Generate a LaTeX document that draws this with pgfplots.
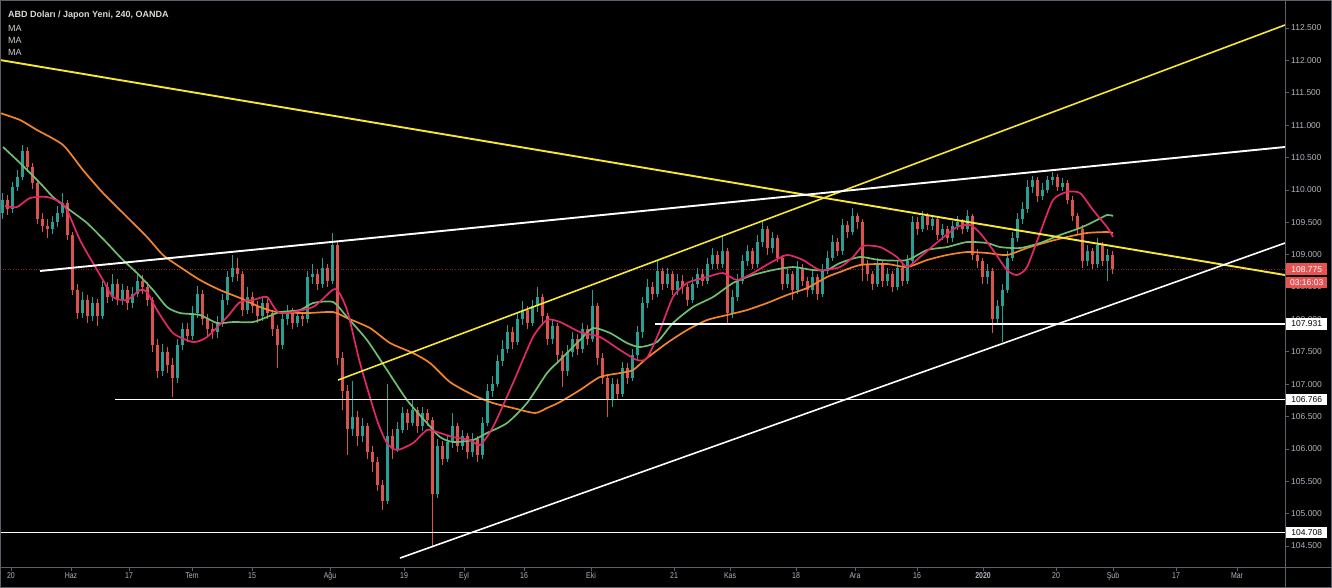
\documentclass[border=0pt]{standalone}
\usepackage{pgfplots}
\pgfplotsset{compat=1.18}
\usepackage{pgfplotstable}
\usepackage{fontspec}
\setmainfont{Liberation Sans}
\newfontfamily\narrowfont[FakeStretch=0.82]{Liberation Sans}
\definecolor{axisgray}{HTML}{5D606B}
\definecolor{labelgray}{HTML}{B2B5BE}
\definecolor{upcol}{HTML}{2B9E94}
\definecolor{downcol}{HTML}{D9534F}
\definecolor{pinkcol}{HTML}{E3276B}
\definecolor{greencol}{HTML}{6FBF6E}
\definecolor{orangecol}{HTML}{F2842A}
\definecolor{yellowcol}{HTML}{F7E733}
\definecolor{pricered}{HTML}{E65353}
\definecolor{dotred}{HTML}{8B2323}

\pgfplotstableread{
x o h l c
2 109.65 109.95 109.55 109.85
7 109.85 109.92 109.62 109.70
12 109.70 110.12 109.65 110.05
17 110.05 110.30 109.98 110.20
22 110.20 110.70 110.15 110.60
27 110.60 110.66 110.28 110.35
32 110.35 110.42 110.02 110.10
37 110.10 110.15 109.48 109.55
42 109.55 109.65 109.35 109.45
47 109.45 109.55 109.25 109.40
52 109.40 109.60 109.32 109.50
57 109.50 109.75 109.42 109.65
62 109.65 109.95 109.58 109.80
67 109.80 109.85 109.22 109.30
72 109.30 109.35 108.38 108.45
77 108.45 108.55 108.00 108.10
82 108.10 108.42 108.02 108.30
87 108.30 108.38 107.95 108.05
92 108.05 108.35 107.98 108.25
97 108.25 108.32 107.90 108.05
102 108.05 108.60 108.00 108.50
107 108.50 108.58 108.25 108.35
112 108.35 108.70 108.28 108.55
117 108.55 108.62 108.22 108.30
122 108.30 108.55 108.22 108.45
127 108.45 108.52 108.15 108.25
132 108.25 108.50 108.18 108.40
137 108.40 108.72 108.35 108.60
142 108.60 108.68 108.40 108.50
147 108.50 108.58 108.20 108.30
152 108.30 108.35 107.50 107.60
157 107.60 107.70 107.10 107.20
162 107.20 107.62 107.12 107.50
167 107.50 107.58 107.18 107.30
172 107.30 107.40 106.80 107.10
177 107.10 107.70 107.02 107.60
182 107.60 107.95 107.52 107.85
187 107.85 107.95 107.65 107.75
192 107.75 108.20 107.68 108.10
197 108.10 108.52 108.02 108.40
202 108.40 108.45 107.92 108.00
207 108.00 108.08 107.75 107.85
212 107.85 107.95 107.70 107.80
217 107.80 108.05 107.72 107.95
222 107.95 108.40 107.88 108.30
227 108.30 108.75 108.22 108.65
232 108.65 109.00 108.58 108.80
237 108.80 108.95 108.60 108.70
242 108.70 108.75 108.05 108.15
247 108.15 108.50 108.08 108.35
252 108.35 108.42 108.10 108.20
257 108.20 108.28 107.95 108.05
262 108.05 108.35 107.98 108.25
267 108.25 108.32 108.00 108.10
272 108.10 108.15 107.75 107.85
277 107.85 107.92 107.25 107.60
282 107.60 108.10 107.55 108.00
287 108.00 108.22 107.92 108.10
292 108.10 108.18 107.85 107.95
297 107.95 108.15 107.88 108.05
302 108.05 108.12 107.90 108.00
307 108.00 108.75 107.95 108.65
312 108.65 108.85 108.55 108.70
317 108.70 108.78 108.45 108.55
322 108.55 108.95 108.48 108.80
327 108.80 108.85 108.50 108.60
332 108.60 109.33 108.55 109.15
337 109.15 109.20 107.30 107.40
342 107.40 107.50 106.60 106.90
347 106.90 106.98 105.90 106.30
352 106.30 107.05 106.20 106.50
357 106.50 106.58 106.05 106.20
362 106.20 106.48 106.10 106.35
367 106.35 106.40 105.85 105.95
372 105.95 106.05 105.65 105.80
377 105.80 105.88 105.35 105.45
382 105.45 105.52 105.05 105.20
387 105.20 107.00 105.15 106.20
392 106.20 106.30 105.85 106.00
397 106.00 106.42 105.95 106.30
402 106.30 106.65 106.25 106.55
407 106.55 106.62 106.30 106.40
412 106.40 106.75 106.35 106.60
417 106.60 106.65 106.25 106.35
422 106.35 106.65 106.28 106.55
427 106.55 106.62 106.35 106.45
432 106.45 106.50 104.48 105.30
437 105.30 106.15 105.25 106.05
442 106.05 106.12 105.75 105.85
447 105.85 106.20 105.80 106.10
452 106.10 106.55 106.02 106.35
457 106.35 106.40 105.95 106.05
462 106.05 106.30 105.98 106.20
467 106.20 106.25 105.85 105.95
472 105.95 106.25 105.88 106.15
477 106.15 106.20 105.80 105.90
482 105.90 106.50 105.85 106.40
487 106.40 107.00 106.35 106.90
492 106.90 107.12 106.80 107.00
497 107.00 107.45 106.95 107.35
502 107.35 107.68 107.28 107.55
507 107.55 107.92 107.48 107.80
512 107.80 107.88 107.55 107.65
517 107.65 108.10 107.60 108.00
522 108.00 108.28 107.92 108.15
527 108.15 108.20 107.85 107.95
532 107.95 108.30 107.90 108.20
537 108.20 108.50 108.12 108.35
542 108.35 108.40 107.95 108.05
547 108.05 108.10 107.60 107.70
552 107.70 108.00 107.62 107.90
557 107.90 107.95 107.35 107.45
562 107.45 107.52 106.95 107.20
567 107.20 107.60 107.12 107.50
572 107.50 107.80 107.42 107.70
577 107.70 107.78 107.45 107.55
582 107.55 107.95 107.48 107.85
587 107.85 107.92 107.60 107.70
592 107.70 108.45 107.65 108.20
597 108.20 108.25 107.30 107.40
602 107.40 107.48 107.00 107.10
607 107.10 107.15 106.50 106.75
612 106.75 107.10 106.65 107.00
617 107.00 107.08 106.75 106.85
622 106.85 107.35 106.80 107.25
627 107.25 107.32 107.00 107.10
632 107.10 107.55 107.05 107.45
637 107.45 107.90 107.38 107.80
642 107.80 108.35 107.72 108.25
647 108.25 108.62 108.18 108.50
652 108.50 108.58 108.30 108.40
657 108.40 108.92 108.35 108.75
662 108.75 108.80 108.45 108.55
667 108.55 108.80 108.48 108.70
672 108.70 108.75 108.38 108.45
677 108.45 108.70 108.38 108.60
682 108.60 108.68 108.40 108.50
687 108.50 108.55 108.20 108.30
692 108.30 108.65 108.25 108.55
697 108.55 108.80 108.48 108.70
702 108.70 108.78 108.52 108.60
707 108.60 108.95 108.55 108.85
712 108.85 109.10 108.78 109.00
717 109.00 109.05 108.78 108.85
722 108.85 109.28 108.80 109.05
727 109.05 109.10 107.92 108.10
732 108.10 108.45 108.02 108.35
737 108.35 108.70 108.28 108.60
742 108.60 109.00 108.55 108.90
747 108.90 109.15 108.82 109.05
752 109.05 109.10 108.78 108.85
757 108.85 109.30 108.80 109.20
762 109.20 109.50 109.12 109.40
767 109.40 109.45 109.00 109.10
772 109.10 109.35 109.02 109.25
777 109.25 109.30 108.88 108.95
782 108.95 109.00 108.45 108.55
787 108.55 108.80 108.48 108.70
792 108.70 108.75 108.30 108.45
797 108.45 108.90 108.40 108.80
802 108.80 108.85 108.52 108.60
807 108.60 108.65 108.35 108.45
812 108.45 108.75 108.40 108.65
817 108.65 108.70 108.30 108.40
822 108.40 108.85 108.35 108.75
827 108.75 109.05 108.70 108.95
832 108.95 109.30 108.90 109.20
837 109.20 109.25 108.98 109.05
842 109.05 109.55 109.00 109.45
847 109.45 109.52 109.25 109.35
852 109.35 109.72 109.30 109.60
857 109.60 109.65 109.40 109.50
862 109.50 109.55 108.60 108.85
867 108.85 108.92 108.60 108.70
872 108.70 108.75 108.45 108.55
877 108.55 108.95 108.50 108.85
882 108.85 108.90 108.50 108.60
887 108.60 108.80 108.52 108.70
892 108.70 108.75 108.42 108.50
897 108.50 108.90 108.45 108.80
902 108.80 108.85 108.52 108.60
907 108.60 109.00 108.55 108.90
912 108.90 109.60 108.85 109.50
917 109.50 109.58 109.30 109.40
922 109.40 109.68 109.35 109.60
927 109.60 109.65 109.38 109.45
932 109.45 109.62 109.38 109.55
937 109.55 109.58 109.22 109.30
942 109.30 109.48 109.22 109.40
947 109.40 109.45 109.18 109.25
952 109.25 109.52 109.20 109.45
957 109.45 109.60 109.38 109.50
962 109.50 109.55 109.32 109.40
967 109.40 109.69 109.35 109.60
972 109.60 109.62 108.92 109.00
977 109.00 109.08 108.80 108.90
982 108.90 108.95 108.55 108.65
987 108.65 108.85 108.55 108.75
992 108.75 108.80 107.79 108.00
997 108.00 108.30 107.92 108.20
1002 108.20 108.55 107.65 108.45
1007 108.45 109.05 108.40 108.95
1012 108.95 109.35 108.90 109.25
1017 109.25 109.65 109.20 109.55
1022 109.55 109.82 109.48 109.70
1027 109.70 110.15 109.65 110.05
1032 110.05 110.22 109.95 110.15
1037 110.15 110.20 109.82 109.90
1042 109.90 110.10 109.85 110.00
1047 110.00 110.22 109.95 110.15
1052 110.15 110.27 110.08 110.20
1057 110.20 110.25 109.98 110.05
1062 110.05 110.18 109.98 110.10
1067 110.10 110.15 109.78 109.85
1072 109.85 109.90 109.52 109.60
1077 109.60 109.65 109.30 109.40
1082 109.40 109.45 108.80 108.90
1087 108.90 109.15 108.82 109.05
1092 109.05 109.10 108.78 108.85
1097 108.85 109.25 108.80 109.15
1102 109.15 109.20 108.82 108.90
1107 108.90 109.08 108.60 109.00
1112 109.00 109.05 108.70 108.775
}\candles

\begin{document}
\begin{tikzpicture}
\fill[black] (0,-21pt) rectangle (1332pt,567pt);
\begin{axis}[
  at={(0,0)}, anchor=south west,
  scale only axis, width=1285pt, height=567pt,
  xmin=0, xmax=1285, ymin=104.176, ymax=112.932,
  axis line style={draw=none},
  xtick={11,71,129,192,252,330,404,464,524,591,674,730,796,855,917,983,1056,1113,1176,1237},
  xticklabels={20,Haz,17,Tem,15,Ağu,19,Eyl,16,Eki,21,Kas,18,Ara,16,{\bfseries 2020},20,Şub,17,Mar},
  xtick pos=left, ytick pos=right,
  ytick={104.5,105,...,112.5},
  yticklabel pos=right,
  tick align=outside, major tick length=4pt,
  tick style={draw=axisgray, line width=0.6pt},
  xticklabel style={font=\narrowfont\fontsize{8.5}{9}\selectfont, text=labelgray, inner sep=1.5pt},
  yticklabel style={font=\fontsize{8.5}{9}\selectfont, text=labelgray, anchor=west, inner sep=2pt,
    /pgf/number format/.cd, fixed, fixed zerofill, precision=3, 1000 sep={}, assume math mode=true},
  unbounded coords=discard,
]
% current price dotted line
\addplot[dotred, line width=0.6pt, dotted, forget plot] coordinates {(0,108.775) (1285,108.775)};
% wicks
\addplot[draw=none, mark=none, forget plot,
  error bars/.cd, y dir=both, y explicit, error mark=none,
  error bar style={draw=upcol, color=upcol, line width=0.8pt, solid}]
  table[x=x, y expr={\thisrow{c}>=\thisrow{o} ? (\thisrow{h}+\thisrow{l})/2 : nan},
        y error expr={(\thisrow{h}-\thisrow{l})/2}] {\candles};
\addplot[draw=none, mark=none, forget plot,
  error bars/.cd, y dir=both, y explicit, error mark=none,
  error bar style={draw=downcol, color=downcol, line width=0.8pt, solid}]
  table[x=x, y expr={\thisrow{c}<\thisrow{o} ? (\thisrow{h}+\thisrow{l})/2 : nan},
        y error expr={(\thisrow{h}-\thisrow{l})/2}] {\candles};
% bodies
\addplot[draw=none, mark=none, forget plot,
  error bars/.cd, y dir=both, y explicit, error mark=none,
  error bar style={draw=upcol, color=upcol, line width=3pt, solid}]
  table[x=x, y expr={\thisrow{c}>=\thisrow{o} ? (\thisrow{o}+\thisrow{c})/2 : nan},
        y error expr={max(abs(\thisrow{c}-\thisrow{o})/2,0.01)}] {\candles};
\addplot[draw=none, mark=none, forget plot,
  error bars/.cd, y dir=both, y explicit, error mark=none,
  error bar style={draw=downcol, color=downcol, line width=3pt, solid}]
  table[x=x, y expr={\thisrow{c}<\thisrow{o} ? (\thisrow{o}+\thisrow{c})/2 : nan},
        y error expr={max(abs(\thisrow{c}-\thisrow{o})/2,0.01)}] {\candles};
% orange MA
\addplot[orangecol, line width=1.7pt, smooth, tension=0.4] coordinates {
(0,111.187) (20,111.079) (37,110.924) (63,110.693) (83,110.306) (103,109.951) (127,109.581)
(147,109.272) (163,108.994) (180,108.808) (200,108.608) (220,108.453) (240,108.330) (260,108.191)
(277,108.113) (307,108.098) (333,108.113) (347,108.021) (370,107.866) (390,107.635) (413,107.480)
(430,107.326) (450,107.032) (473,106.832) (493,106.708) (513,106.631) (535,106.554) (547,106.631)
(560,106.724) (580,106.909) (600,107.110) (620,107.171) (633,107.218) (647,107.403) (667,107.635)
(687,107.835) (707,107.990) (727,108.067) (747,108.144) (767,108.252) (787,108.376) (807,108.484)
(827,108.654) (840,108.731) (860,108.839) (887,108.855) (907,108.808) (927,108.916) (947,108.994)
(967,109.040) (987,109.025) (1007,108.994) (1027,109.102) (1047,109.194) (1067,109.272) (1087,109.334)
(1107,109.349) (1113,109.334)};
% green MA
\addplot[greencol, line width=1.7pt, smooth, tension=0.4] coordinates {
(3,110.662) (20,110.415) (40,110.106) (53,109.890) (67,109.720) (87,109.488) (107,109.179)
(123,108.916) (137,108.716) (153,108.453) (167,108.191) (180,108.098) (200,108.067) (217,107.944)
(233,107.959) (253,107.959) (267,108.036) (280,108.113) (300,108.144) (313,108.252) (333,108.268)
(347,108.036) (367,107.681) (387,107.218) (407,106.754) (427,106.399) (440,106.183) (453,106.106)
(473,106.137) (487,106.245) (507,106.399) (527,106.708) (547,107.171) (560,107.372) (580,107.681)
(593,107.866) (610,107.789) (627,107.635) (640,107.573) (657,107.650) (673,107.944) (693,108.191)
(713,108.345) (733,108.561) (753,108.685) (773,108.762) (793,108.808) (813,108.762) (827,108.762)
(840,108.870) (860,108.963) (880,108.916) (907,108.916) (927,109.071) (947,109.117) (967,109.194)
(987,109.179) (1000,109.117) (1020,109.102) (1040,109.179) (1060,109.303) (1080,109.411)
(1093,109.503) (1107,109.612) (1113,109.596)};
% pink MA
\addplot[pinkcol, line width=1.7pt, smooth, tension=0.4] coordinates {
(5,109.751) (17,109.735) (30,109.874) (47,109.890) (60,109.812) (67,109.689) (80,109.225)
(93,108.870) (103,108.608) (113,108.345) (127,108.299) (140,108.453) (147,108.422) (157,108.144)
(173,107.789) (193,107.650) (207,107.727) (227,108.036) (240,108.268) (253,108.299) (267,108.345)
(280,108.098) (313,108.191) (335,108.469) (347,108.144) (360,107.326) (377,106.445) (387,106.090)
(397,105.982) (413,106.090) (427,106.291) (437,106.260) (453,106.183) (470,106.137) (480,106.059)
(493,106.337) (513,107.017) (533,107.727) (547,107.990) (560,107.959) (580,107.805) (600,107.727)
(620,107.527) (637,107.372) (647,107.403) (660,107.835) (673,108.345) (687,108.561) (707,108.654)
(723,108.716) (737,108.608) (753,108.716) (770,108.870) (787,108.994) (803,108.916) (820,108.762)
(840,108.808) (853,108.963) (863,109.133) (880,109.117) (897,108.963) (907,108.808) (920,108.963)
(940,109.225) (957,109.426) (970,109.457) (980,109.334) (993,109.071) (1007,108.762) (1017,108.685)
(1027,108.808) (1040,109.334) (1053,109.843) (1067,109.967) (1080,109.951) (1093,109.689)
(1107,109.426) (1113,109.272)};
% trend lines
\addplot[yellowcol, line width=1.9pt] coordinates {(0,112.005) (1285,108.685)};
\addplot[yellowcol, line width=1.6pt] coordinates {(338,107.063) (1285,112.546)};
\addplot[white, line width=1.9pt] coordinates {(40,108.747) (1285,110.662)};
\addplot[white, line width=1.6pt] coordinates {(400,104.314) (1285,109.179)};
% horizontal levels
\addplot[white, line width=1.4pt] coordinates {(655,107.931) (1285,107.931)};
\addplot[white, line width=1.4pt] coordinates {(115,106.766) (1285,106.766)};
\addplot[white, line width=1.8pt] coordinates {(0,104.708) (1285,104.708)};
% anchors for the right-hand price boxes
\coordinate (p775) at (axis cs:1286,108.775);
\coordinate (p931) at (axis cs:1286,107.931);
\coordinate (p766) at (axis cs:1286,106.766);
\coordinate (p708) at (axis cs:1286,104.708);
\end{axis}
% frame lines
\draw[axisgray, line width=0.8pt] (0,0) -- (1332pt,0);
\draw[axisgray, line width=0.8pt] (1285pt,-21pt) -- (1285pt,567pt);
\draw[axisgray, line width=0.6pt] (0.3pt,-20.7pt) rectangle (1331.7pt,566.7pt);
% right-hand price boxes
\tikzset{pbox/.style={anchor=west, font=\fontsize{8.5}{9}\selectfont, inner xsep=3pt, inner ysep=2pt, minimum width=41pt, minimum height=11.5pt}}
\node[pbox, fill=pricered, text=white] (pb) at (p775) {108.775};
\node[pbox, anchor=north west, fill=pricered, text=white] at ([yshift=-1.5pt]pb.south west) {03:16:03};
\node[pbox, fill=white, text=black] at (p931) {107.931};
\node[pbox, fill=white, text=black] at (p766) {106.766};
\node[pbox, fill=white, text=black] at (p708) {104.708};
% header
\node[anchor=west, text=white!85!black, font=\bfseries\fontsize{9}{10}\selectfont, inner sep=0pt] at (8pt,552pt) {ABD Doları / Japon Yeni, 240, OANDA};
\node[anchor=west, text=white!80!black, font=\fontsize{9}{10}\selectfont, inner sep=0pt] at (8pt,539pt) {MA};
\node[anchor=west, text=white!80!black, font=\fontsize{9}{10}\selectfont, inner sep=0pt] at (8pt,527pt) {MA};
\node[anchor=west, text=white!80!black, font=\fontsize{9}{10}\selectfont, inner sep=0pt] at (8pt,515pt) {MA};
\pgfresetboundingbox
\path (0,-21pt) rectangle (1332pt,567pt);
\end{tikzpicture}
\end{document}
